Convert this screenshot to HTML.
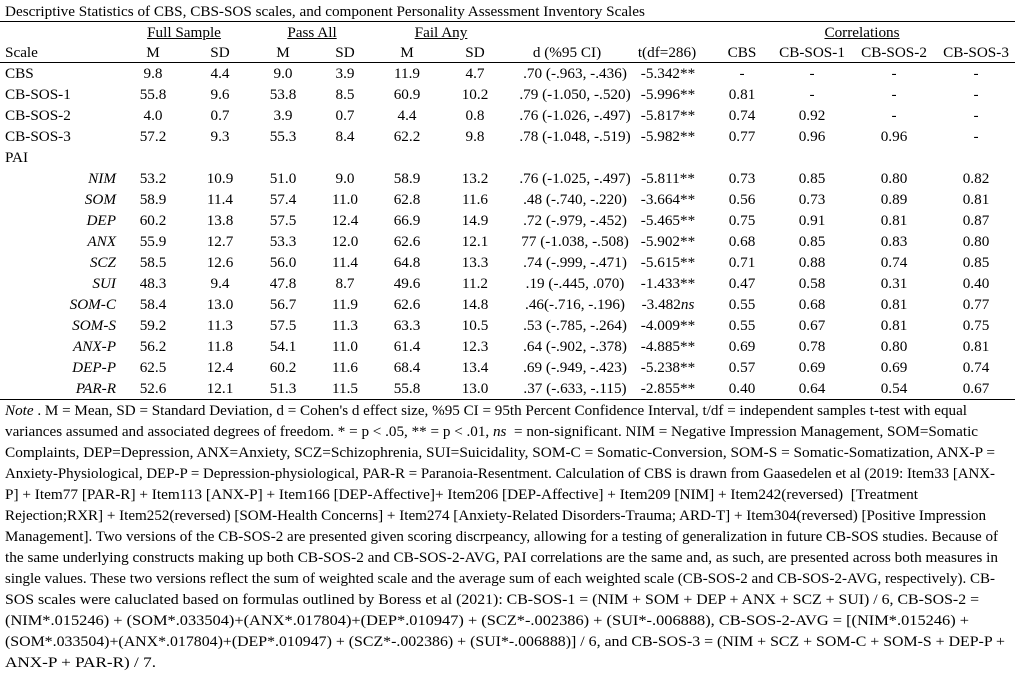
<!DOCTYPE html>
<html><head><meta charset="utf-8"><style>
body{margin:0;background:#fff;width:1015px;height:675px;overflow:hidden;position:relative;font-family:"Liberation Serif",serif;font-size:15.2px;color:#000}
.r{position:absolute;left:0;width:1015px;height:20px;line-height:20px}
.r span{position:absolute;top:0;white-space:nowrap;transform:translateX(-50%)}
.r span.l{transform:none}
.r span.ri{transform:translateX(-100%);font-style:italic}
.hl{position:absolute;left:0;width:1015px;height:1px;background:#000}
.u{text-decoration:underline}
.n{position:absolute;left:5px;white-space:nowrap;height:21px;line-height:21px;transform-origin:0 50%}
</style></head><body>
<div class="r" style="top:2px"><span class="l" style="left:5px">Descriptive Statistics of CBS, CBS-SOS scales, and component Personality Assessment Inventory Scales</span></div>
<div class="hl" style="top:21px"></div>
<div class="r" style="top:23px"><span class="u" style="left:184px">Full Sample</span><span class="u" style="left:312px">Pass All</span><span class="u" style="left:441px">Fail Any</span><span class="u" style="left:862px">Correlations</span></div>
<div class="r" style="top:43px"><span class="l" style="left:5px">Scale</span><span style="left:153px">M</span><span style="left:220px">SD</span><span style="left:283px">M</span><span style="left:345px">SD</span><span style="left:407px">M</span><span style="left:475px">SD</span><span style="left:567px">d (%95 CI)</span><span style="left:667px">t(df=286)</span><span style="left:742px">CBS</span><span style="left:812px">CB-SOS-1</span><span style="left:894px">CB-SOS-2</span><span style="left:976px">CB-SOS-3</span></div>
<div class="hl" style="top:62px"></div>

<div class="r" style="top:64px"><span class="l" style="left:5px">CBS</span><span style="left:153px">9.8</span><span style="left:220px">4.4</span><span style="left:283px">9.0</span><span style="left:345px">3.9</span><span style="left:407px">11.9</span><span style="left:475px">4.7</span><span style="left:575px">.70 (-.963, -.436)</span><span style="left:668px">-5.342**</span><span style="left:742px">-</span><span style="left:812px">-</span><span style="left:894px">-</span><span style="left:976px">-</span></div>
<div class="r" style="top:85px"><span class="l" style="left:5px">CB-SOS-1</span><span style="left:153px">55.8</span><span style="left:220px">9.6</span><span style="left:283px">53.8</span><span style="left:345px">8.5</span><span style="left:407px">60.9</span><span style="left:475px">10.2</span><span style="left:575px">.79 (-1.050, -.520)</span><span style="left:668px">-5.996**</span><span style="left:742px">0.81</span><span style="left:812px">-</span><span style="left:894px">-</span><span style="left:976px">-</span></div>
<div class="r" style="top:106px"><span class="l" style="left:5px">CB-SOS-2</span><span style="left:153px">4.0</span><span style="left:220px">0.7</span><span style="left:283px">3.9</span><span style="left:345px">0.7</span><span style="left:407px">4.4</span><span style="left:475px">0.8</span><span style="left:575px">.76 (-1.026, -.497)</span><span style="left:668px">-5.817**</span><span style="left:742px">0.74</span><span style="left:812px">0.92</span><span style="left:894px">-</span><span style="left:976px">-</span></div>
<div class="r" style="top:127px"><span class="l" style="left:5px">CB-SOS-3</span><span style="left:153px">57.2</span><span style="left:220px">9.3</span><span style="left:283px">55.3</span><span style="left:345px">8.4</span><span style="left:407px">62.2</span><span style="left:475px">9.8</span><span style="left:575px">.78 (-1.048, -.519)</span><span style="left:668px">-5.982**</span><span style="left:742px">0.77</span><span style="left:812px">0.96</span><span style="left:894px">0.96</span><span style="left:976px">-</span></div>
<div class="r" style="top:148px"><span class="l" style="left:5px">PAI</span></div>
<div class="r" style="top:169px"><span class="ri" style="left:116px">NIM</span><span style="left:153px">53.2</span><span style="left:220px">10.9</span><span style="left:283px">51.0</span><span style="left:345px">9.0</span><span style="left:407px">58.9</span><span style="left:475px">13.2</span><span style="left:575px">.76 (-1.025, -.497)</span><span style="left:668px">-5.811**</span><span style="left:742px">0.73</span><span style="left:812px">0.85</span><span style="left:894px">0.80</span><span style="left:976px">0.82</span></div>
<div class="r" style="top:190px"><span class="ri" style="left:116px">SOM</span><span style="left:153px">58.9</span><span style="left:220px">11.4</span><span style="left:283px">57.4</span><span style="left:345px">11.0</span><span style="left:407px">62.8</span><span style="left:475px">11.6</span><span style="left:575px">.48 (-.740, -.220)</span><span style="left:668px">-3.664**</span><span style="left:742px">0.56</span><span style="left:812px">0.73</span><span style="left:894px">0.89</span><span style="left:976px">0.81</span></div>
<div class="r" style="top:211px"><span class="ri" style="left:116px">DEP</span><span style="left:153px">60.2</span><span style="left:220px">13.8</span><span style="left:283px">57.5</span><span style="left:345px">12.4</span><span style="left:407px">66.9</span><span style="left:475px">14.9</span><span style="left:575px">.72 (-.979, -.452)</span><span style="left:668px">-5.465**</span><span style="left:742px">0.75</span><span style="left:812px">0.91</span><span style="left:894px">0.81</span><span style="left:976px">0.87</span></div>
<div class="r" style="top:232px"><span class="ri" style="left:116px">ANX</span><span style="left:153px">55.9</span><span style="left:220px">12.7</span><span style="left:283px">53.3</span><span style="left:345px">12.0</span><span style="left:407px">62.6</span><span style="left:475px">12.1</span><span style="left:575px">77 (-1.038, -.508)</span><span style="left:668px">-5.902**</span><span style="left:742px">0.68</span><span style="left:812px">0.85</span><span style="left:894px">0.83</span><span style="left:976px">0.80</span></div>
<div class="r" style="top:253px"><span class="ri" style="left:116px">SCZ</span><span style="left:153px">58.5</span><span style="left:220px">12.6</span><span style="left:283px">56.0</span><span style="left:345px">11.4</span><span style="left:407px">64.8</span><span style="left:475px">13.3</span><span style="left:575px">.74 (-.999, -.471)</span><span style="left:668px">-5.615**</span><span style="left:742px">0.71</span><span style="left:812px">0.88</span><span style="left:894px">0.74</span><span style="left:976px">0.85</span></div>
<div class="r" style="top:274px"><span class="ri" style="left:116px">SUI</span><span style="left:153px">48.3</span><span style="left:220px">9.4</span><span style="left:283px">47.8</span><span style="left:345px">8.7</span><span style="left:407px">49.6</span><span style="left:475px">11.2</span><span style="left:575px">.19 (-.445, .070)</span><span style="left:668px">-1.433**</span><span style="left:742px">0.47</span><span style="left:812px">0.58</span><span style="left:894px">0.31</span><span style="left:976px">0.40</span></div>
<div class="r" style="top:295px"><span class="ri" style="left:116px">SOM-C</span><span style="left:153px">58.4</span><span style="left:220px">13.0</span><span style="left:283px">56.7</span><span style="left:345px">11.9</span><span style="left:407px">62.6</span><span style="left:475px">14.8</span><span style="left:575px">.46(-.716, -.196)</span><span style="left:668px">-3.482<i>ns</i></span><span style="left:742px">0.55</span><span style="left:812px">0.68</span><span style="left:894px">0.81</span><span style="left:976px">0.77</span></div>
<div class="r" style="top:316px"><span class="ri" style="left:116px">SOM-S</span><span style="left:153px">59.2</span><span style="left:220px">11.3</span><span style="left:283px">57.5</span><span style="left:345px">11.3</span><span style="left:407px">63.3</span><span style="left:475px">10.5</span><span style="left:575px">.53 (-.785, -.264)</span><span style="left:668px">-4.009**</span><span style="left:742px">0.55</span><span style="left:812px">0.67</span><span style="left:894px">0.81</span><span style="left:976px">0.75</span></div>
<div class="r" style="top:337px"><span class="ri" style="left:116px">ANX-P</span><span style="left:153px">56.2</span><span style="left:220px">11.8</span><span style="left:283px">54.1</span><span style="left:345px">11.0</span><span style="left:407px">61.4</span><span style="left:475px">12.3</span><span style="left:575px">.64 (-.902, -.378)</span><span style="left:668px">-4.885**</span><span style="left:742px">0.69</span><span style="left:812px">0.78</span><span style="left:894px">0.80</span><span style="left:976px">0.81</span></div>
<div class="r" style="top:358px"><span class="ri" style="left:116px">DEP-P</span><span style="left:153px">62.5</span><span style="left:220px">12.4</span><span style="left:283px">60.2</span><span style="left:345px">11.6</span><span style="left:407px">68.4</span><span style="left:475px">13.4</span><span style="left:575px">.69 (-.949, -.423)</span><span style="left:668px">-5.238**</span><span style="left:742px">0.57</span><span style="left:812px">0.69</span><span style="left:894px">0.69</span><span style="left:976px">0.74</span></div>
<div class="r" style="top:379px"><span class="ri" style="left:116px">PAR-R</span><span style="left:153px">52.6</span><span style="left:220px">12.1</span><span style="left:283px">51.3</span><span style="left:345px">11.5</span><span style="left:407px">55.8</span><span style="left:475px">13.0</span><span style="left:575px">.37 (-.633, -.115)</span><span style="left:668px">-2.855**</span><span style="left:742px">0.40</span><span style="left:812px">0.64</span><span style="left:894px">0.54</span><span style="left:976px">0.67</span></div>
<div class="hl" style="top:399px"></div>

<div class="n" data-w="967" style="top:400px"><i>Note</i> . M = Mean, SD = Standard Deviation, d = Cohen's d effect size, %95 CI = 95th Percent Confidence Interval, t/df = independent samples t-test with equal</div>
<div class="n" data-w="978" style="top:421px">variances assumed and associated degrees of freedom. * = p &lt; .05, ** = p &lt; .01, <i>ns</i> &nbsp;= non-significant. NIM = Negative Impression Management, SOM=Somatic</div>
<div class="n" data-w="995" style="top:442px">Complaints, DEP=Depression, ANX=Anxiety, SCZ=Schizophrenia, SUI=Suicidality, SOM-C = Somatic-Conversion, SOM-S = Somatic-Somatization, ANX-P =</div>
<div class="n" data-w="995" style="top:463px">Anxiety-Physiological, DEP-P = Depression-physiological, PAR-R = Paranoia-Resentment. Calculation of CBS is drawn from Gaasedelen et al (2019: Item33 [ANX-</div>
<div class="n" data-w="918" style="top:484px">P] + Item77 [PAR-R] + Item113 [ANX-P] + Item166 [DEP-Affective]+ Item206 [DEP-Affective] + Item209 [NIM] + Item242(reversed) &nbsp;[Treatment</div>
<div class="n" data-w="986" style="top:505px">Rejection;RXR] + Item252(reversed) [SOM-Health Concerns] + Item274 [Anxiety-Related Disorders-Trauma; ARD-T] + Item304(reversed) [Positive Impression</div>
<div class="n" data-w="998" style="top:526px">Management]. Two versions of the CB-SOS-2 are presented given scoring discrpeancy, allowing for a testing of generalization in future CB-SOS studies. Because of</div>
<div class="n" data-w="998" style="top:547px">the same underlying constructs making up both CB-SOS-2 and CB-SOS-2-AVG, PAI correlations are the same and, as such, are presented across both measures in</div>
<div class="n" data-w="995" style="top:568px">single values. These two versions reflect the sum of weighted scale and the average sum of each weighted scale (CB-SOS-2 and CB-SOS-2-AVG, respectively). CB-</div>
<div class="n" data-w="979" style="top:589px">SOS scales were caluclated based on formulas outlined by Boress et al (2021): CB-SOS-1 = (NIM + SOM + DEP + ANX + SCZ + SUI) / 6, CB-SOS-2 =</div>
<div class="n" data-w="969" style="top:610px">(NIM*.015246) + (SOM*.033504)+(ANX*.017804)+(DEP*.010947) + (SCZ*-.002386) + (SUI*-.006888), CB-SOS-2-AVG = [(NIM*.015246) +</div>
<div class="n" data-w="1005" style="top:631px">(SOM*.033504)+(ANX*.017804)+(DEP*.010947) + (SCZ*-.002386) + (SUI*-.006888)] / 6, and CB-SOS-3 = (NIM + SCZ + SOM-C + SOM-S + DEP-P +</div>
<div class="n" data-w="156" style="top:652px">ANX-P + PAR-R) / 7.</div>
<script>
document.querySelectorAll('.n').forEach(function(e){var t=+e.getAttribute('data-w')-5;var w=e.getBoundingClientRect().width;if(w>0)e.style.transform='scaleX('+(t/w)+')';});
</script>
</body></html>
